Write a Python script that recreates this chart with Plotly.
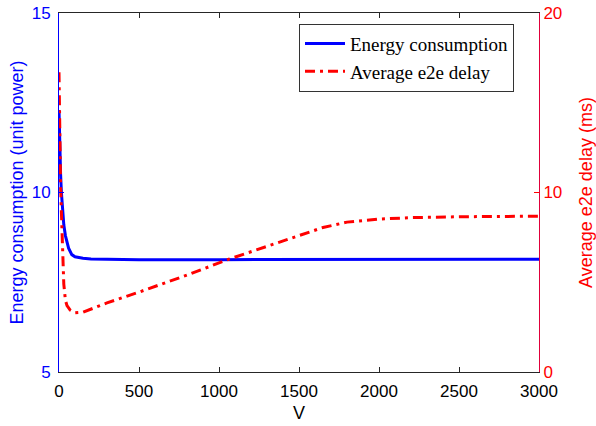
import plotly.graph_objects as go

# Energy consumption (left axis)
v_energy = [0, 2, 5, 10, 15, 20, 25, 30, 40, 50, 60, 80, 100, 150, 200, 300, 500, 1000, 1500, 2000, 2500, 3000]
energy = [12.3, 11.8, 11.2, 10.5, 10.0, 9.65, 9.35, 9.1, 8.8, 8.6, 8.45, 8.27, 8.21, 8.17, 8.15, 8.14, 8.13, 8.13, 8.13, 8.13, 8.135, 8.14]

# Average e2e delay (right axis)
v_delay = [0, 2, 5, 10, 15, 20, 25, 30, 40, 50, 70, 100, 150, 200, 300, 500, 800, 1066, 1300, 1500, 1650, 1800, 1900, 2000, 2200, 2500, 3000]
delay = [16.7, 14.5, 12.3, 10.4, 8.9, 7.4, 5.9, 4.9, 4.0, 3.7, 3.45, 3.3, 3.33, 3.5, 3.85, 4.45, 5.4, 6.3, 7.0, 7.6, 8.05, 8.35, 8.45, 8.52, 8.6, 8.65, 8.68]

x_ticks = [0, 500, 1000, 1500, 2000, 2500, 3000]
left_ticks = [5, 10, 15]
right_ticks = [0, 10, 20]

fig = go.Figure()
fig.add_trace(go.Scatter(x=v_energy, y=energy, mode="lines", name="Energy consumption",
                         line=dict(color="#0000ff", width=3), yaxis="y"))
fig.add_trace(go.Scatter(x=v_delay, y=delay, mode="lines", name="Average e2e delay",
                         line=dict(color="#ff0000", width=3, dash="10px,5px,3px,5px"), yaxis="y2"))

sans = "Liberation Sans, Arial, sans-serif"
tick_font = dict(family=sans, size=17)
fig.update_layout(
    width=596, height=426,
    margin=dict(l=59, r=57, t=13, b=54, autoexpand=False),
    plot_bgcolor="white", paper_bgcolor="white",
    showlegend=True,
    legend=dict(x=0.50, y=0.97, xanchor="left", yanchor="top",
                bgcolor="white", bordercolor="#333333", borderwidth=1,
                font=dict(family="Liberation Serif, Times New Roman, serif", size=19, color="black"),
                tracegroupgap=0, itemwidth=40),
    xaxis=dict(range=[0, 3000], tickvals=x_ticks, ticks="inside", ticklen=5, tickcolor="#262626",
               showline=True, linecolor="#262626", linewidth=1, mirror="ticks", automargin=False,
               ticklabelstandoff=4, ticklabeloverflow="allow",
               showgrid=False, zeroline=False, tickfont=dict(color="#000000", **tick_font),
               title=dict(text="V", font=dict(family=sans, size=18, color="black"), standoff=5)),
    yaxis=dict(range=[5, 15], tickvals=left_ticks, ticks="inside", ticklen=5, tickcolor="#0000ff",
               showline=True, linecolor="#0000ff", linewidth=1, automargin=False,
               ticklabelstandoff=4, ticklabeloverflow="allow",
               showgrid=False, zeroline=False, tickfont=dict(color="#0000ff", **tick_font),
               title=dict(text="Energy consumption (unit power)", font=dict(family=sans, size=18, color="#0000ff"), standoff=3)),
    yaxis2=dict(range=[0, 20], tickvals=right_ticks, ticks="inside", ticklen=5, tickcolor="#ff0000",
                overlaying="y", side="right", automargin=False, ticklabeloverflow="allow",
                showline=True, linecolor="#e0003a", linewidth=1,
                showgrid=False, zeroline=False, tickfont=dict(color="#ff0000", **tick_font),
                title=dict(text="Average e2e delay (ms)", font=dict(family=sans, size=18, color="#ff0000"), standoff=22)),
)

fig.write_html("out.html", config={"displayModeBar": False},
               post_script="document.body.style.margin='0';document.body.style.overflow='hidden';")
